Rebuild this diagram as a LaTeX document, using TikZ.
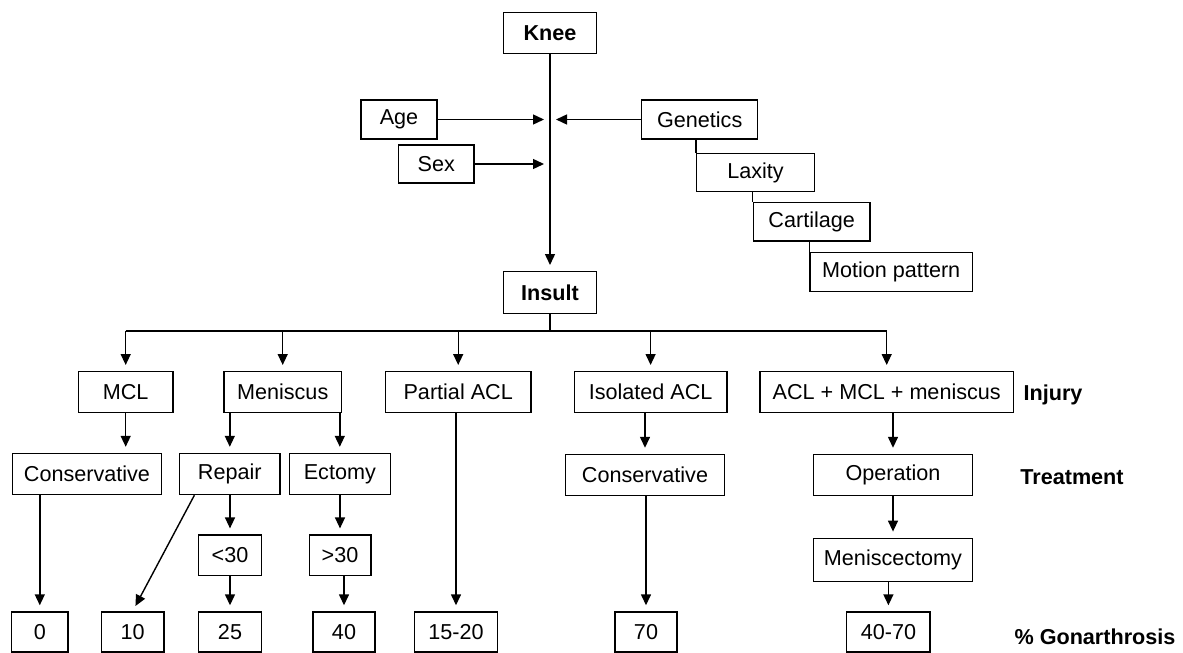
\documentclass[tikz,border=0pt]{standalone}
\usepackage{fontspec}
\setmainfont{Liberation Sans}
\usetikzlibrary{arrows.meta, calc}

\begin{document}
\begin{tikzpicture}[x=0.5pt, y=-0.5pt, line width=0.7pt,
    box/.style={draw, inner sep=0pt, minimum height=20.3pt, font=\fontsize{10.8}{13}\selectfont},
    arr/.style={-{Triangle[length=5.5pt, width=5pt]}, shorten >=3pt},
    lab/.style={font=\fontsize{10.8}{13}\selectfont\bfseries}]
    \useasboundingbox (0,0) rectangle (1183,653);

    % Knee and factors
    \node[box, minimum width=46.7pt] (knee) at (550,33) {\textbf{Knee}};
    \node[box, minimum width=38pt, minimum height=19.5pt] (age) at (399,119.5) {Age};
    \node[box, minimum width=37.7pt, minimum height=19pt] (sex) at (436.3,164) {Sex};
    \node[box, minimum width=58pt, minimum height=19.5pt] (genetics) at (699.7,119.5) {Genetics};
    \node[box, minimum width=58.8pt, minimum height=19.2pt] (laxity) at (755.5,172.5) {Laxity};
    \node[box, minimum width=58.4pt, minimum height=19.4pt] (cartilage) at (811.7,221.7) {Cartilage};
    \node[box, minimum width=81.2pt, minimum height=19.7pt] (motion) at (891.2,272) {Motion pattern};
    \node[box, minimum width=46.7pt, minimum height=20.8pt] (insult) at (550,292.5) {\textbf{Insult}};

    \draw[arr] (knee) -- (insult);
    \draw[arr] (age.east) -- (age.east -| knee.center);
    \draw[arr] (sex.east) -- (sex.east -| knee.center);
    \draw[arr] (genetics.west) -- (genetics.west -| knee.center);
    % staircase
    \draw (genetics.south -| laxity.west) -- (laxity.north west);
    \draw (laxity.south -| cartilage.west) -- (cartilage.north west);
    \draw (cartilage.south -| motion.west) -- (motion.north west);

    % Injury row
    \node[box, minimum width=47.3pt] (mcl) at (125.7,392) {MCL};
    \node[box, minimum width=58.7pt] (meniscus) at (282.7,392) {Meniscus};
    \node[box, minimum width=72.8pt] (pacl) at (458.2,392) {Partial ACL};
    \node[box, minimum width=76.2pt] (iacl) at (650.6,392) {Isolated ACL};
    \node[box, minimum width=126.7pt] (combo) at (886.7,392) {ACL + MCL + meniscus};
    \node[lab] (injury) at (1053,395) {Injury};

    \coordinate (bus) at ($(insult.south)+(0,17)$);
    \draw (insult) -- (bus);
    \draw (mcl.north |- bus) -- (combo.north |- bus);
    \draw[arr] (mcl.north |- bus) -- (mcl);
    \draw[arr] (meniscus.north |- bus) -- (meniscus);
    \draw[arr] (pacl.north |- bus) -- (pacl);
    \draw[arr] (iacl.north |- bus) -- (iacl);
    \draw[arr] (combo.north |- bus) -- (combo);

    % Treatment row
    \node[box, minimum width=74.5pt, minimum height=20.5pt] (consA) at (87,474) {Conservative};
    \node[box, minimum width=50.3pt, minimum height=20.5pt] (repair) at (229.8,474) {Repair};
    \node[box, minimum width=50.5pt, minimum height=20.5pt] (ectomy) at (339.8,474) {Ectomy};
    \node[box, minimum width=79.7pt, minimum height=20.5pt] (consB) at (645,475) {Conservative};
    \node[box, minimum width=79.7pt, minimum height=20.5pt] (operation) at (893,475) {Operation};
    \node[lab] (treatment) at (1072,477) {Treatment};

    \draw[arr] (mcl) -- (mcl |- consA.north);
    \draw[arr] (repair.north |- meniscus.south) -- (repair);
    \draw[arr] (ectomy.north |- meniscus.south) -- (ectomy);
    \draw[arr] (iacl.south -| consB) -- (consB);
    \draw[arr] (combo.south -| operation) -- (operation);

    % Age / follow-up row
    \node[box, minimum width=31.4pt] (lessthirty) at (230,555.4) {<30};
    \node[box, minimum width=30.8pt] (morethirty) at (340,555.4) {>30};
    \node[box, minimum width=79.7pt, minimum height=21.7pt] (meniscectomy) at (893,560) {Meniscectomy};

    \draw[arr] (repair.south -| lessthirty) -- (lessthirty);
    \draw[arr] (ectomy.south -| morethirty) -- (morethirty);
    \draw[arr] (operation) -- (meniscectomy);

    % Gonarthrosis row
    \node[box, minimum width=28.3pt, minimum height=20pt] (gzero) at (39.8,632) {0};
    \node[box, minimum width=31.2pt, minimum height=20pt] (gten) at (132.6,632) {10};
    \node[box, minimum width=31.4pt, minimum height=20pt] (gtwentyfive) at (230,632) {25};
    \node[box, minimum width=31pt, minimum height=20pt] (gforty) at (344,632) {40};
    \node[box, minimum width=41.5pt, minimum height=20pt] (gfifteen) at (456,632) {15-20};
    \node[box, minimum width=31pt, minimum height=20pt] (gseventy) at (646,632) {70};
    \node[box, minimum width=41.7pt, minimum height=20pt] (gfortyseventy) at (888.4,632) {40-70};
    \node[lab] (gonarthrosis) at (1095,637) {\% Gonarthrosis};

    \draw[arr] (consA.south -| gzero) -- (gzero);
    \draw[arr] ([xshift=7.8pt]repair.south west) -- (gten.north);
    \draw[arr] (lessthirty) -- (gtwentyfive);
    \draw[arr] (morethirty.south -| gforty) -- (gforty);
    \draw[arr] (pacl.south -| gfifteen) -- (gfifteen);
    \draw[arr] (consB.south -| gseventy) -- (gseventy);
    \draw[arr] (meniscectomy.south -| gfortyseventy) -- (gfortyseventy);
\end{tikzpicture}
\end{document}
